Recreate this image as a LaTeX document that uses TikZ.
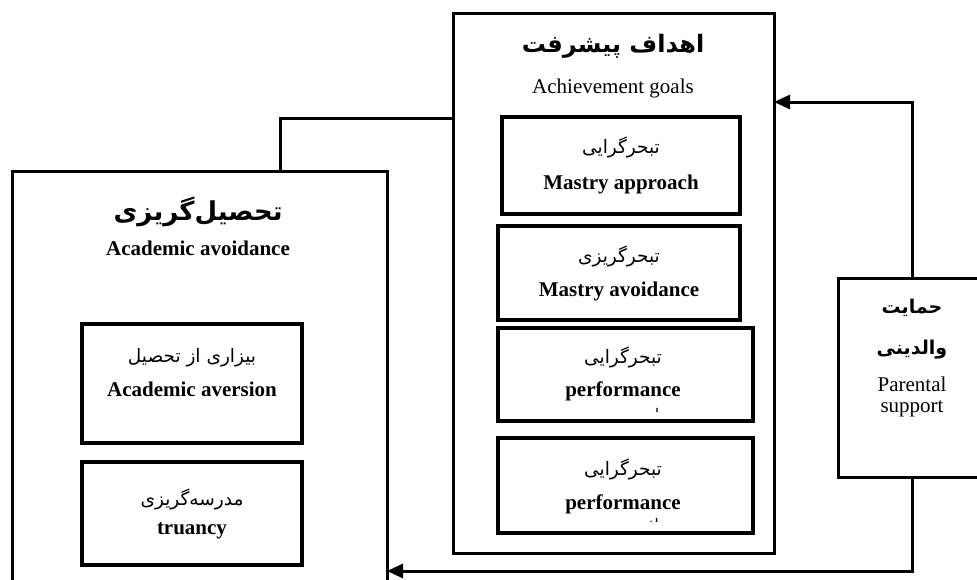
\documentclass[tikz,border=0pt]{standalone}
\usepackage{fontspec}
\setmainfont{Liberation Serif}
\newfontfamily\fa[Script=Arabic]{DejaVu Sans}
\TeXXeTstate=1
\usetikzlibrary{arrows.meta}
\newcommand{\FA}[1]{{\fa\beginR #1\endR}}
\begin{document}
\begin{tikzpicture}[x=1pt,y=-1pt,
 obox/.style={draw, line width=3pt, inner sep=0pt, outer sep=0pt, anchor=north west},
 ibox/.style={draw, line width=4pt, inner sep=0pt, outer sep=0pt, anchor=north west},
 conn/.style={line width=3pt},
 tip/.style={-{Triangle[length=16pt,width=14pt]}},
 txt/.style={inner sep=0pt, anchor=center},
 en/.style={txt, font=\fontsize{21}{23}\selectfont},
 enb/.style={txt, font=\fontsize{21}{23}\selectfont\bfseries},
 fas/.style={txt, font=\fontsize{18.5}{21}\selectfont},
 fat/.style={txt, font=\fontsize{24}{28}\selectfont\bfseries},
 fam/.style={txt, font=\fontsize{19}{22}\selectfont\bfseries},
 dotmark/.style={txt, font=\fontsize{9}{10}\selectfont\bfseries}
]
\clip (0,0) rectangle (977,579);
\fill[white] (0,0) rectangle (977,579);

% Achievement goals
\node[obox, minimum width=321pt, minimum height=540pt] (goals) at (453,13) {};
\node[fat] (goalsfa) at (613,46) {\FA{اهداف پیشرفت}};
\node[en] (goalsen) at (613,88) {Achievement goals};

\node[ibox, minimum width=238pt, minimum height=97pt] (mapp) at (502,117) {};
\node[fas] (mappfa) at (mapp.center |- 0,147) {\FA{تبحرگرایی}};
\node[enb] (mappen) at (mapp.center |- 0,184) {Mastry approach};

\node[ibox, minimum width=242pt, minimum height=94pt] (mavo) at (498,226) {};
\node[fas] (mavofa) at (mavo.center |- 0,256) {\FA{تبحرگریزی}};
\node[enb] (mavoen) at (mavo.center |- 0,291) {Mastry avoidance};

\node[ibox, minimum width=255pt, minimum height=93pt] (perf1) at (498,328) {};
\node[fas] (perf1fa) at (623,357) {\FA{تبحرگرایی}};
\node[enb] (perf1en) at (623,391) {performance};
\node[dotmark] (perf1m) at (657,410) {ı};

\node[ibox, minimum width=255pt, minimum height=95pt] (perf2) at (498,438) {};
\node[fas] (perf2fa) at (623,469) {\FA{تبحرگرایی}};
\node[enb] (perf2en) at (623,504) {performance};
\node[dotmark] (perf2m) at (654,520) {. ı};

% Academic avoidance
\node[obox, minimum width=375pt, minimum height=440pt] (avoid) at (12,171) {};
\node[fat, font=\fontsize{26}{30}\selectfont\bfseries] (avoidfa) at (198,212) {\FA{تحصیل‌گریزی}};
\node[enb] (avoiden) at (198,248) {Academic avoidance};

\node[ibox, minimum width=220pt, minimum height=119pt] (avers) at (82,324) {};
\node[fas] (aversfa) at (192,358) {\FA{بیزاری از تحصیل}};
\node[enb] (aversen) at (192,389) {Academic aversion};

\node[ibox, minimum width=220pt, minimum height=103pt] (tru) at (82,462) {};
\node[fas] (trufa) at (192,499) {\FA{مدرسه‌گریزی}};
\node[enb] (truen) at (192,531) {truancy};

% Parental support
\node[obox, minimum width=148pt, minimum height=199pt] (par) at (838,278) {};
\node[fam] (parfa1) at (912,308) {\FA{حمایت}};
\node[fam] (parfa2) at (912,350) {\FA{والدینی}};
\node[en] (paren1) at (912,384) {Parental};
\node[en] (paren2) at (912,409) {support};

% connectors
\coordinate (k1) at (280,118);
\coordinate (k2) at (912,102);
\coordinate (k3) at (912,571);
\draw[conn] (avoid.north -| k1) |- (k1 -| goals.west);
\draw[conn, tip] (par.north) |- (k2 -| goals.east);
\draw[conn, tip] (par.south) |- (k3 -| avoid.east);
\end{tikzpicture}
\end{document}
